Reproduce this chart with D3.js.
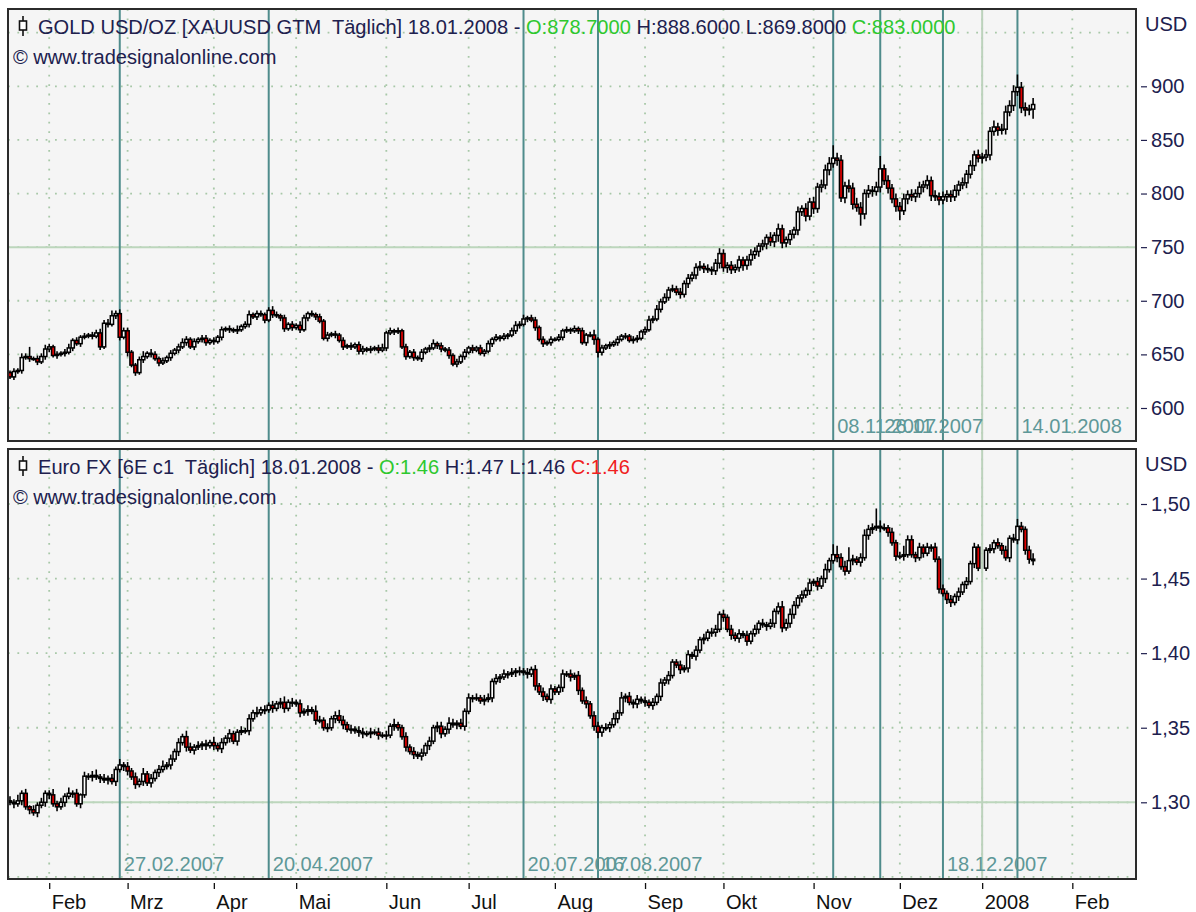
<!DOCTYPE html>
<html lang="de">
<head>
<meta charset="utf-8">
<title>Gold / Euro FX</title>
<script src="https://cdn.jsdelivr.net/npm/d3@7"></script>
<style>
  body { margin: 0; background: #fff; }
  svg text { font-family: "Liberation Sans", Arial, sans-serif; white-space: pre; }
</style>
</head>
<body>
<svg id="chart" width="1196" height="912"></svg>
<script>
"use strict"

// ---- data ----
const startDay = new Date(2007, 0, 18);   // first bar, 18.01.2007, one bar per weekday

const goldOpen0 = 633;
const goldClose = [
  629,634,635,647,648,646,646,643,648,655, 657,649,650,651,652,656,663,660,666,667,
  668,667,670,657,679,678,686,688,666,672, 652,640,633,645,648,651,650,646,642,644,
  647,651,654,657,661,664,657,662,664,665, 661,663,662,666,673,674,673,672,673,676,
  678,687,685,688,687,682,691,687,686,684, 674,678,675,677,673,684,688,687,685,681,
  665,668,669,668,663,657,658,657,659,653, 655,654,655,656,654,656,670,672,671,672,
  657,648,652,647,646,652,655,656,660,658, 655,654,649,641,643,648,652,656,654,656,
  651,653,660,664,666,665,667,668,672,677, 678,683,684,682,675,664,660,661,664,664,
  666,672,673,672,674,672,661,668,668,664, 652,656,658,659,661,664,667,667,663,664,
  665,671,673,682,683,692,699,703,710,711, 708,706,716,721,724,731,732,730,729,728,
  735,744,731,733,729,731,738,733,738,743, 746,751,753,759,755,761,767,754,757,762,
  766,783,786,779,792,786,806,808,822,828, 833,831,796,807,805,790,787,781,800,803,
  802,806,823,812,805,795,788,784,795,799, 797,800,806,808,812,798,797,794,797,799,
  797,803,808,810,818,826,836,833,834,836, 858,862,859,860,876,882,895,899,880,878,
  878.7,883
];
// wick lengths beyond the body, in dollars (base-36 digits)
const goldWickUp =
  "2324392334 3232342323 2334345343 3223524323 2323432323 3232323242 3423323432 " +
  "3232432323 2323232323 3232342323 2323232342 3232323232 3232323234 3423323232 " +
  "3232323235 2323232323 3234343434 3434345343 4543434345 4343535434 3535454556 " +
  "c554656545 45c4545454 5454545454 4545454545 4645656c55 46";
const goldWickDown =
  "2323232323 3232323232 2323232332 4232323232 2323232323 3232323232 2323232323 " +
  "3232323232 2323232323 3232323232 2323232323 3232323232 2323232323 3232323232 " +
  "2323232325 5323232323 3232323232 3434343434 4545434545 4545456545 4545454545 " +
  "4545454b54 5454545945 4545454545 5454545454 5454545456 59";

const euroOpen0 = 1.301;
const euroClose = [
  1.300,1.299,1.301,1.306,1.297,1.295,1.293,1.298,1.300,1.306, 1.305,1.299,1.297,1.300,1.304,1.306,1.306,1.299,1.305,1.3175,
  1.317,1.318,1.317,1.316,1.315,1.316,1.314,1.322,1.325,1.324, 1.321,1.317,1.312,1.314,1.319,1.313,1.316,1.320,1.322,1.324,
  1.325,1.329,1.334,1.340,1.344,1.337,1.335,1.337,1.338,1.339, 1.338,1.340,1.338,1.336,1.340,1.343,1.346,1.341,1.347,1.348,
  1.348,1.356,1.360,1.360,1.362,1.362,1.365,1.363,1.366,1.367, 1.363,1.367,1.367,1.366,1.360,1.361,1.362,1.361,1.355,1.355,
  1.350,1.350,1.356,1.358,1.355,1.352,1.349,1.349,1.348,1.347, 1.346,1.346,1.347,1.347,1.345,1.345,1.345,1.351,1.352,1.350,
  1.344,1.337,1.334,1.332,1.331,1.333,1.338,1.341,1.350,1.351, 1.346,1.349,1.353,1.352,1.353,1.351,1.361,1.370,1.370,1.370,
  1.368,1.369,1.370,1.381,1.383,1.384,1.386,1.386,1.387,1.388, 1.388,1.387,1.386,1.389,1.378,1.374,1.371,1.369,1.376,1.374,
  1.377,1.386,1.386,1.384,1.385,1.375,1.368,1.366,1.358,1.351, 1.347,1.350,1.350,1.352,1.356,1.360,1.370,1.371,1.367,1.366,
  1.369,1.368,1.367,1.365,1.367,1.371,1.380,1.382,1.385,1.394, 1.392,1.389,1.390,1.399,1.398,1.402,1.409,1.410,1.414,1.414,
  1.416,1.426,1.424,1.416,1.412,1.410,1.413,1.412,1.408,1.413, 1.416,1.420,1.419,1.418,1.420,1.428,1.431,1.417,1.420,1.426,
  1.432,1.437,1.439,1.442,1.447,1.448,1.445,1.450,1.456,1.462, 1.466,1.464,1.458,1.455,1.462,1.463,1.461,1.464,1.479,1.483,
  1.484,1.485,1.484,1.484,1.481,1.474,1.465,1.465,1.466,1.476, 1.466,1.464,1.471,1.467,1.471,1.471,1.463,1.443,1.440,1.436,
  1.434,1.438,1.441,1.446,1.448,1.460,1.471,1.457,null,1.469, 1.470,1.474,1.472,1.469,1.464,1.477,1.476,1.485,1.483,1.469,
  1.463,1.462
];
// wick lengths beyond the body, in 0.001 (base-36 digits)
const euroWickUp =
  "3242313232 2423242313 2342323242 3232423234 2323243232 3242323223 2324232323 " +
  "4232323243 2323432323 3232323242 2323232323 3243232323 2332323232 3232323232 " +
  "2323232323 3232424232 3232323232 2323232323 3232323232 3232323434 3232323242 " +
  "7634932343 3c43232363 3232323232 3232323232 3232323532 34";
const euroWickDown =
  "2323232323 3232323232 2323232323 3232323232 2323232323 3232323232 2323232323 " +
  "3232323232 2323232323 3232323232 2323232323 3232323232 2323232323 3232323232 " +
  "2323232323 4323232323 3232323232 2323232323 3232323232 2323232323 3232323232 " +
  "2323232323 3232323232 2323232323 3232323232 2323232323 33";

const monthLabels = ["Feb","Mrz","Apr","Mai","Jun","Jul","Aug","Sep","Okt","Nov","Dez","2008","Feb"];
const goldGrid = [600,650,700,750,800,850,900,950];
const goldTicks = [600,650,700,750,800,850,900];
const euroGrid = [1.25,1.30,1.35,1.40,1.45,1.50];
const euroTicks = [1.30,1.35,1.40,1.45,1.50];

const eventDates = ["27.02.2007","20.04.2007","20.07.2007","16.08.2007","08.11.2007","26.11.2007","18.12.2007","14.01.2008"];
const eventPanel = ["euro","euro","euro","euro","gold","gold","euro","gold"];

const goldTitle = "GOLD USD/OZ [XAUUSD GTM  Täglich] 18.01.2008 - ";
const goldOHLC = ["878.7000","888.6000","869.8000","883.0000"];
const goldOHLCColor = ["green","navy","navy","green"];
const euroTitle = "Euro FX [6E c1  Täglich] 18.01.2008 - ";
const euroOHLC = ["1.46","1.47","1.46","1.46"];
const euroOHLCColor = ["green","navy","navy","red"];

// ---- drawing ----
const col = {navy: "#20204e", green: "#2ec82e", red: "#f02020"};
const svg = d3.select("#chart");
const plotL = 8, plotR = 1136;

const bars = [];
for (let d = new Date(startDay); bars.length < 300; d.setDate(d.getDate() + 1)) {
  if (d.getDay() !== 0 && d.getDay() !== 6) bars.push(new Date(d));
}
const fmtDay = d3.timeFormat("%d.%m.%Y");
const monthIdx = [];
bars.forEach((d, i) => { if (i > 0 && d.getMonth() !== bars[i - 1].getMonth()) monthIdx.push(i); });
const monthTicks = monthIdx.slice(0, monthLabels.length);
const eventIdx = eventDates.map(s => bars.findIndex(d => fmtDay(d) === s));
const yearIdx = monthTicks[monthLabels.indexOf("2008")];

const x = d3.scaleLinear().domain([0, 287]).range([10, 10 + 287 * 3.92]);

function toOHLC(open0, closes, up, down, unit) {
  const wu = up.replace(/ /g, "").split("").map(c => parseInt(c, 36));
  const wd = down.replace(/ /g, "").split("").map(c => parseInt(c, 36));
  let prev = open0;
  const out = [];
  closes.forEach((c, i) => {
    if (c == null) return;
    const o = prev;
    out.push({i: i, o: o, c: c, h: Math.max(o, c) + wu[i] * unit, l: Math.min(o, c) - wd[i] * unit});
    prev = c;
  });
  return out;
}

const panels = [
  {key: "gold", top: 9, bottom: 441,
   y: d3.scaleLinear().domain([600, 900]).range([408, 86.3]),
   data: toOHLC(goldOpen0, goldClose, goldWickUp, goldWickDown, 1),
   grid: goldGrid, ticks: goldTicks, hline: 750, fmt: d3.format("d"),
   title: goldTitle, ohlc: goldOHLC, ohlcColor: goldOHLCColor},
  {key: "euro", top: 449, bottom: 879,
   y: d3.scaleLinear().domain([1.30, 1.50]).range([802.3, 504]),
   data: toOHLC(euroOpen0, euroClose, euroWickUp, euroWickDown, 0.001),
   grid: euroGrid, ticks: euroTicks, hline: 1.30, fmt: d => d3.format(".2f")(d).replace(".", ","),
   title: euroTitle, ohlc: euroOHLC, ohlcColor: euroOHLCColor}
];

panels.forEach(p => {
  const g = svg.append("g");
  svg.append("clipPath").attr("id", "clip-" + p.key)
    .append("rect").attr("x", plotL).attr("y", p.top)
    .attr("width", plotR - plotL).attr("height", p.bottom - p.top);

  g.append("rect").attr("x", plotL).attr("y", p.top)
    .attr("width", plotR - plotL).attr("height", p.bottom - p.top)
    .attr("fill", "#f5f5f5");

  const inner = g.append("g").attr("clip-path", "url(#clip-" + p.key + ")");

  // dotted grid
  inner.selectAll(".hg").data(p.grid).join("line")
    .attr("x1", plotL).attr("x2", plotR)
    .attr("y1", d => p.y(d)).attr("y2", d => p.y(d))
    .attr("stroke", "#a8c8a8").attr("stroke-width", 1.8).attr("stroke-dasharray", "1.8,7.6");
  inner.selectAll(".vg").data(monthTicks).join("line")
    .attr("x1", d => x(d)).attr("x2", d => x(d))
    .attr("y1", p.top).attr("y2", p.bottom)
    .attr("stroke", "#a8c8a8").attr("stroke-width", 1.8).attr("stroke-dasharray", "1.8,7.6");

  // light green marker lines
  inner.append("line").attr("x1", plotL).attr("x2", plotR)
    .attr("y1", p.y(p.hline)).attr("y2", p.y(p.hline))
    .attr("stroke", "#bcd6bc").attr("stroke-width", 2);
  inner.append("line").attr("x1", x(yearIdx)).attr("x2", x(yearIdx))
    .attr("y1", p.top).attr("y2", p.bottom)
    .attr("stroke", "#bcd2bc").attr("stroke-width", 2);

  // event lines
  inner.selectAll(".ev").data(eventIdx).join("line")
    .attr("x1", d => x(d)).attr("x2", d => x(d))
    .attr("y1", p.top).attr("y2", p.bottom)
    .attr("stroke", "#4f8c8c").attr("stroke-width", 2);

  // candles
  const cg = inner.selectAll(".candle").data(p.data).join("g");
  cg.append("line")
    .attr("x1", d => x(d.i)).attr("x2", d => x(d.i))
    .attr("y1", d => p.y(d.h)).attr("y2", d => p.y(d.l))
    .attr("stroke", "#000").attr("stroke-width", 1.6);
  cg.append("rect")
    .attr("x", d => x(d.i) - 1.6).attr("width", 3.2)
    .attr("y", d => p.y(Math.max(d.o, d.c)))
    .attr("height", d => Math.max(0.8, Math.abs(p.y(d.o) - p.y(d.c))))
    .attr("fill", d => d.c < d.o ? "#e00000" : "#ffffff")
    .attr("stroke", "#000").attr("stroke-width", 1.5);

  // event date labels
  inner.selectAll(".evl").data(eventIdx.filter((d, k) => eventPanel[k] === p.key)).join("text")
    .attr("class", "t")
    .attr("x", d => x(d) + 4).attr("y", p.bottom - 8)
    .attr("fill", "#5e9898")
    .text(d => fmtDay(bars[d]));

  // header
  const icon = g.append("g");
  icon.append("line").attr("x1", 23).attr("x2", 23).attr("y1", p.top + 7).attr("y2", p.top + 27)
    .attr("stroke", "#111").attr("stroke-width", 1.6);
  icon.append("rect").attr("x", 19.5).attr("y", p.top + 12).attr("width", 7).attr("height", 9)
    .attr("fill", "#fff").attr("stroke", "#111").attr("stroke-width", 1.6);

  const head = g.append("text").attr("class", "t head").attr("x", 38).attr("y", p.top + 25)
    .attr("fill", col.navy);
  head.append("tspan").text(p.title);
  ["O:", " H:", " L:", " C:"].forEach((lab, k) => {
    if (k > 0) head.append("tspan").attr("fill", col.navy).text(lab.slice(0, 1));
    head.append("tspan").attr("fill", col[p.ohlcColor[k]]).text(lab.trim() + p.ohlc[k]);
  });

  g.append("text").attr("class", "t").attr("x", 13).attr("y", p.top + 55)
    .attr("fill", col.navy).text("© www.tradesignalonline.com");

  // frame
  g.append("rect").attr("x", plotL).attr("y", p.top)
    .attr("width", plotR - plotL).attr("height", p.bottom - p.top)
    .attr("fill", "none").attr("stroke", "#2b2b2b").attr("stroke-width", 2);

  // right axis
  const ax = svg.append("g").attr("transform", "translate(1141,0)")
    .call(d3.axisRight(p.y).tickValues(p.ticks).tickFormat(p.fmt).tickSize(6).tickPadding(4));
  ax.select(".domain").remove();
  ax.selectAll("line").attr("stroke", col.navy).attr("stroke-width", 1.2);
  ax.selectAll("text").attr("class", "t").attr("fill", col.navy).attr("font-family", null);
  svg.append("text").attr("class", "t").attr("x", 1145).attr("y", p.top + 22)
    .attr("fill", col.navy).text("USD");
});

// month axis
const xa = svg.append("g").attr("transform", "translate(0,883)")
  .call(d3.axisBottom(x).tickValues(monthTicks).tickFormat((d, k) => monthLabels[k]).tickSize(6).tickPadding(6));
xa.select(".domain").remove();
xa.selectAll("line").attr("stroke", "#111").attr("stroke-width", 1.3);
xa.selectAll("text").attr("class", "t").attr("fill", "#111").attr("font-family", null)
  .attr("text-anchor", "start").attr("x", 2);

// font size fitted so the first header spans its width in the picture
const head0 = svg.select("text.head");
head0.style("font-size", "18px");
const w0 = head0.node().getComputedTextLength();
const fs = 18 * 918 / w0;
svg.selectAll("text.t").style("font-size", fs.toFixed(2) + "px");
</script>
</body>
</html>
